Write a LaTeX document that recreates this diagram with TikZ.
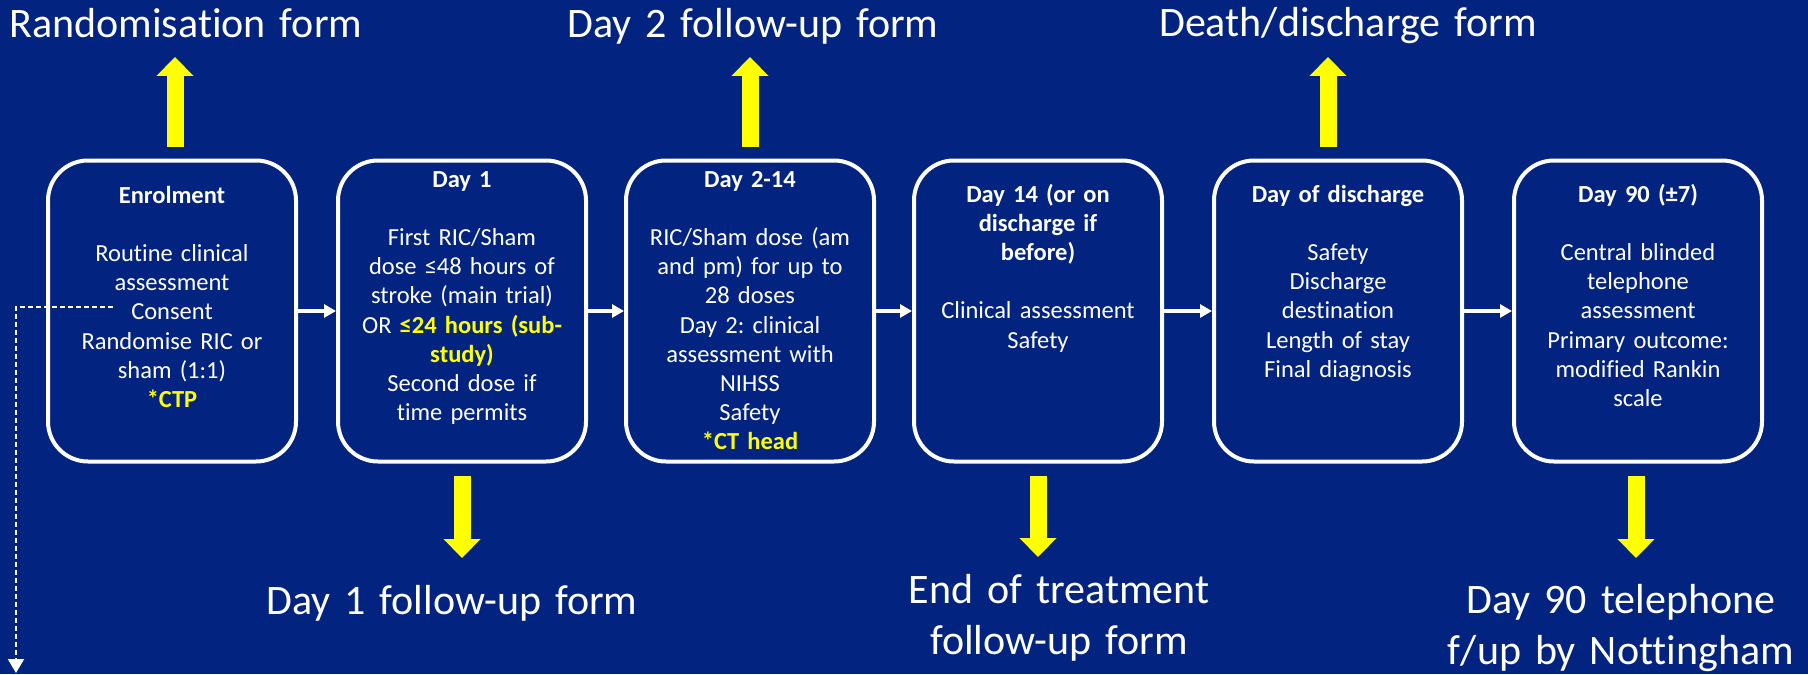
\documentclass[tikz,border=0pt]{standalone}
\usepackage{fontspec}
\setmainfont{Carlito}[RawFeature={-liga;-clig;-calt;-dlig}]
\usetikzlibrary{arrows.meta}
\frenchspacing

\definecolor{trialblue}{RGB}{2,36,128}
\definecolor{formyellow}{RGB}{255,255,0}
\newcommand{\yellowbold}[1]{\textcolor{formyellow}{\textbf{#1}}}

\begin{document}
\begin{tikzpicture}[x=0.5pt, y=-0.5pt,
    stagebox/.style={draw=white, line width=2pt, rounded corners=20pt,
        minimum width=124pt, minimum height=150.5pt, inner sep=0pt},
    stagetext/.style={text=white, font=\fontsize{12.25pt}{14.6pt}\selectfont,
        align=center, text width=124pt, inner sep=0pt, anchor=base},
    formlabel/.style={text=white, font=\fontsize{21pt}{25.5pt}\selectfont,
        align=center, text width=200pt, inner sep=0pt, anchor=base},
    formarrow/.style={formyellow, line width=8.5pt, -{Triangle[width=18pt,length=9.5pt]}},
    steparrow/.style={white, line width=1.8pt, -{Triangle[width=6.5pt,length=6pt]}},
    dropline/.style={white, line width=1pt, dash pattern=on 2.5pt off 1.5pt,
        -{Triangle[width=8pt,length=7pt]}}]

    % Background
    \useasboundingbox (0,0) rectangle (1808,674);
    \fill[trialblue] (0,0) rectangle (1808,674);

    % Draw the stage boxes
    \node[stagebox] (enrol) at (172,311) {};
    \node[stagebox] (dayone) at (462,311) {};
    \node[stagebox] (daytwo) at (750,311) {};
    \node[stagebox] (dayfourteen) at (1038,311) {};
    \node[stagebox] (discharge) at (1338,311) {};
    \node[stagebox] (dayninety) at (1638,311) {};

    % Text inside the boxes
    \node[stagetext] (enroltext) at (172,203) {\textbf{Enrolment}\\[\baselineskip]
        Routine clinical\\ assessment\\ Consent\\ Randomise RIC or\\ sham (1:1)\\ \yellowbold{*CTP}};
    \node[stagetext] (dayonetext) at (462,187) {\textbf{Day 1}\\[\baselineskip]
        First RIC/Sham\\ dose ≤48 hours of\\ stroke (main trial)\\
        OR \yellowbold{≤24 hours (sub-}\\ \yellowbold{study)}\\ Second dose if\\ time permits};
    \node[stagetext] (daytwotext) at (750,187) {\textbf{Day 2-14}\\[\baselineskip]
        RIC/Sham dose (am\\ and pm) for up to\\ 28 doses\\ Day 2: clinical\\
        assessment with\\ NIHSS\\ Safety\\ \yellowbold{*CT head}};
    \node[stagetext] (dayfourteentext) at (1038,202) {\textbf{Day 14 (or on}\\
        \textbf{discharge if}\\ \textbf{before)}\\[\baselineskip]
        Clinical assessment\\ Safety};
    \node[stagetext] (dischargetext) at (1338,202) {\textbf{Day of discharge}\\[\baselineskip]
        Safety\\ Discharge\\ destination\\ Length of stay\\ Final diagnosis};
    \node[stagetext] (dayninetytext) at (1638,202) {\textbf{Day 90 (±7)}\\[\baselineskip]
        Central blinded\\ telephone\\ assessment\\ Primary outcome:\\ modified Rankin\\ scale};

    % Arrows between the stages
    \draw[steparrow] (enrol) -- (dayone);
    \draw[steparrow] (dayone) -- (daytwo);
    \draw[steparrow] (daytwo) -- (dayfourteen);
    \draw[steparrow] (dayfourteen) -- (discharge);
    \draw[steparrow] (discharge) -- (dayninety);

    % Form labels
    \node[formlabel] (randform) at (186,38) {Randomisation form};
    \node[formlabel] (daytwoform) at (753,38) {Day 2 follow-up form};
    \node[formlabel] (deathform) at (1348,37) {Death/discharge form};
    \node[formlabel] (dayoneform) at (452,614) {Day 1 follow-up form};
    \node[formlabel] (eotform) at (1059,603) {End of treatment\\ follow-up form};
    \node[formlabel] (dayninetyform) at (1621,613) {Day 90 telephone\\ f/up by Nottingham};

    % Yellow arrows to the forms
    \draw[formarrow] ([xshift=1.5pt,yshift=6pt]enrol.north) -- ([xshift=1.5pt,yshift=-9.5pt]enrol.north |- randform.base);
    \draw[formarrow] ([yshift=6pt]daytwo.north) -- ([yshift=-9.5pt]daytwo.north |- daytwoform.base);
    \draw[formarrow] ([xshift=-5pt,yshift=6pt]discharge.north) -- ([xshift=-5pt,yshift=-10pt]discharge.north |- deathform.base);
    \draw[formarrow] ([yshift=-6.25pt]dayone.south) -- ([yshift=28pt]dayone.south |- dayoneform.base);
    \draw[formarrow] ([yshift=-6.25pt]dayfourteen.south) -- ([yshift=23pt]dayfourteen.south |- eotform.base);
    \draw[formarrow] ([xshift=-1pt,yshift=-6.25pt]dayninety.south) -- ([xshift=-1pt,yshift=27.5pt]dayninety.south |- dayninetyform.base);

    % Dashed line leaving the trial
    \coordinate (consentpt) at (113,307);
    \coordinate (dropend) at (16,673);
    \draw[dropline] (consentpt) -| (dropend);

\end{tikzpicture}
\end{document}
